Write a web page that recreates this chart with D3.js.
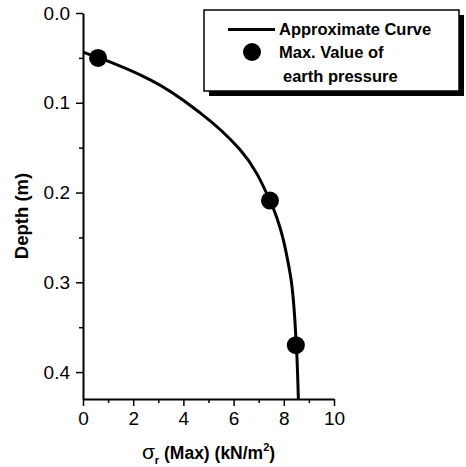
<!DOCTYPE html>
<html>
<head>
<meta charset="utf-8">
<script src="https://cdn.jsdelivr.net/npm/d3@7"></script>
<style>
  body { margin: 0; background: white; }
  text { font-family: "Liberation Sans", Arial, sans-serif; }
</style>
</head>
<body>
<div id="chart"></div>
<script>
// approximate curve
curveStress = [0, 0.6, 2.68, 4.68, 6.26, 7.45, 8.25, 8.48, 8.58]
curveDepth  = [0.0435, 0.0495, 0.0744, 0.1115, 0.1524, 0.209, 0.29, 0.36, 0.43]

// measured maxima
pointStress = [0.6, 7.45, 8.48]
pointDepth  = [0.05, 0.209, 0.37]

xTicks = [0, 2, 4, 6, 8, 10]
yTicks = [0.0, 0.1, 0.2, 0.3, 0.4]

width = 466
height = 467
margin = ({ top: 13, right: 132, bottom: 68, left: 83 })

x = d3.scaleLinear()
   .domain([0, 10])
   .range([margin.left, width - margin.right])

y = d3.scaleLinear()
   .domain([0, 0.43])
   .range([margin.top, height - margin.bottom])

const svg = d3.create("svg")
   .attr("width", width)
   .attr("height", height)
   .attr("viewBox", [0, 0, width, height])

// minor ticks
svg.append("g")
   .attr("transform", `translate(0,${y(0.43)})`)
   .call(d3.axisBottom(x).tickValues(d3.range(1, 10, 2)).tickSize(4).tickFormat(""))
   .call(g => g.select(".domain").remove())
   .call(g => g.selectAll("line").attr("stroke-width", 1.5))

svg.append("g")
   .attr("transform", `translate(${x(0)},0)`)
   .call(d3.axisLeft(y).tickValues([0.05, 0.15, 0.25, 0.35]).tickSize(4).tickFormat(""))
   .call(g => g.select(".domain").remove())
   .call(g => g.selectAll("line").attr("stroke-width", 1.5))

// major axes
svg.append("g")
   .attr("transform", `translate(0,${y(0.43)})`)
   .call(d3.axisBottom(x).tickValues(xTicks).tickSize(7).tickSizeOuter(0).tickPadding(6))
   .call(g => g.select(".domain").attr("stroke-width", 2))
   .call(g => g.selectAll("line").attr("stroke-width", 1.5))
   .call(g => g.selectAll("text").attr("font-size", 19).attr("fill", "black"))

svg.append("g")
   .attr("transform", `translate(${x(0)},0)`)
   .call(d3.axisLeft(y).tickValues(yTicks).tickFormat(d3.format(".1f")).tickSize(7).tickSizeOuter(0).tickPadding(6))
   .call(g => g.select(".domain").attr("stroke-width", 2))
   .call(g => g.selectAll("line").attr("stroke-width", 1.5))
   .call(g => g.selectAll("text").attr("font-size", 19).attr("fill", "black"))

// axis labels
xl = svg.append("text")
   .attr("x", (x(0) + x(10)) / 2)
   .attr("y", 459)
   .attr("text-anchor", "middle")
   .attr("font-size", 17.5)
   .attr("font-weight", "bold")
xl.append("tspan").attr("font-weight", "normal").attr("font-size", 21).text("σ")
xl.append("tspan").attr("font-size", 11).attr("dy", 5).text("r")
xl.append("tspan").attr("dy", -5).text(" (Max) (kN/m")
xl.append("tspan").attr("font-size", 11).attr("dy", -8).text("2")
xl.append("tspan").attr("dy", 8).text(")")

svg.append("text")
   .attr("transform", `translate(28,216) rotate(-90)`)
   .attr("text-anchor", "middle")
   .attr("font-size", 18.5)
   .attr("font-weight", "bold")
   .text("Depth (m)")

// curve
line = d3.line()
   .x(i => x(curveStress[i]))
   .y(i => y(curveDepth[i]))
   .curve(d3.curveMonotoneY)

svg.append("path")
   .attr("d", line(d3.range(curveStress.length)))
   .attr("fill", "none")
   .attr("stroke", "black")
   .attr("stroke-width", 3)

svg.append("g")
   .selectAll("circle")
   .data(d3.range(pointStress.length))
   .join("circle")
   .attr("cx", i => x(pointStress[i]))
   .attr("cy", i => y(pointDepth[i]))
   .attr("r", 9)
   .attr("fill", "black")

// legend with drop shadow
lg = svg.append("g")
lg.append("rect").attr("x", 209).attr("y", 15).attr("width", 255).attr("height", 81).attr("fill", "black")
lg.append("rect").attr("x", 204).attr("y", 10).attr("width", 255).attr("height", 81)
   .attr("fill", "white").attr("stroke", "black").attr("stroke-width", 1.5)
lg.append("line").attr("x1", 228).attr("x2", 275).attr("y1", 29.5).attr("y2", 29.5)
   .attr("stroke", "black").attr("stroke-width", 3)
lg.append("circle").attr("cx", 252).attr("cy", 52).attr("r", 9).attr("fill", "black")
lg.selectAll("text")
   .data([["Approximate Curve", 279, 35], ["Max. Value of", 279, 58], ["earth pressure", 283, 82]])
   .join("text")
   .attr("x", d => d[1])
   .attr("y", d => d[2])
   .attr("font-size", 16.5)
   .attr("font-weight", "bold")
   .text(d => d[0])

d3.select("#chart").node().append(svg.node())
</script>
</body>
</html>
